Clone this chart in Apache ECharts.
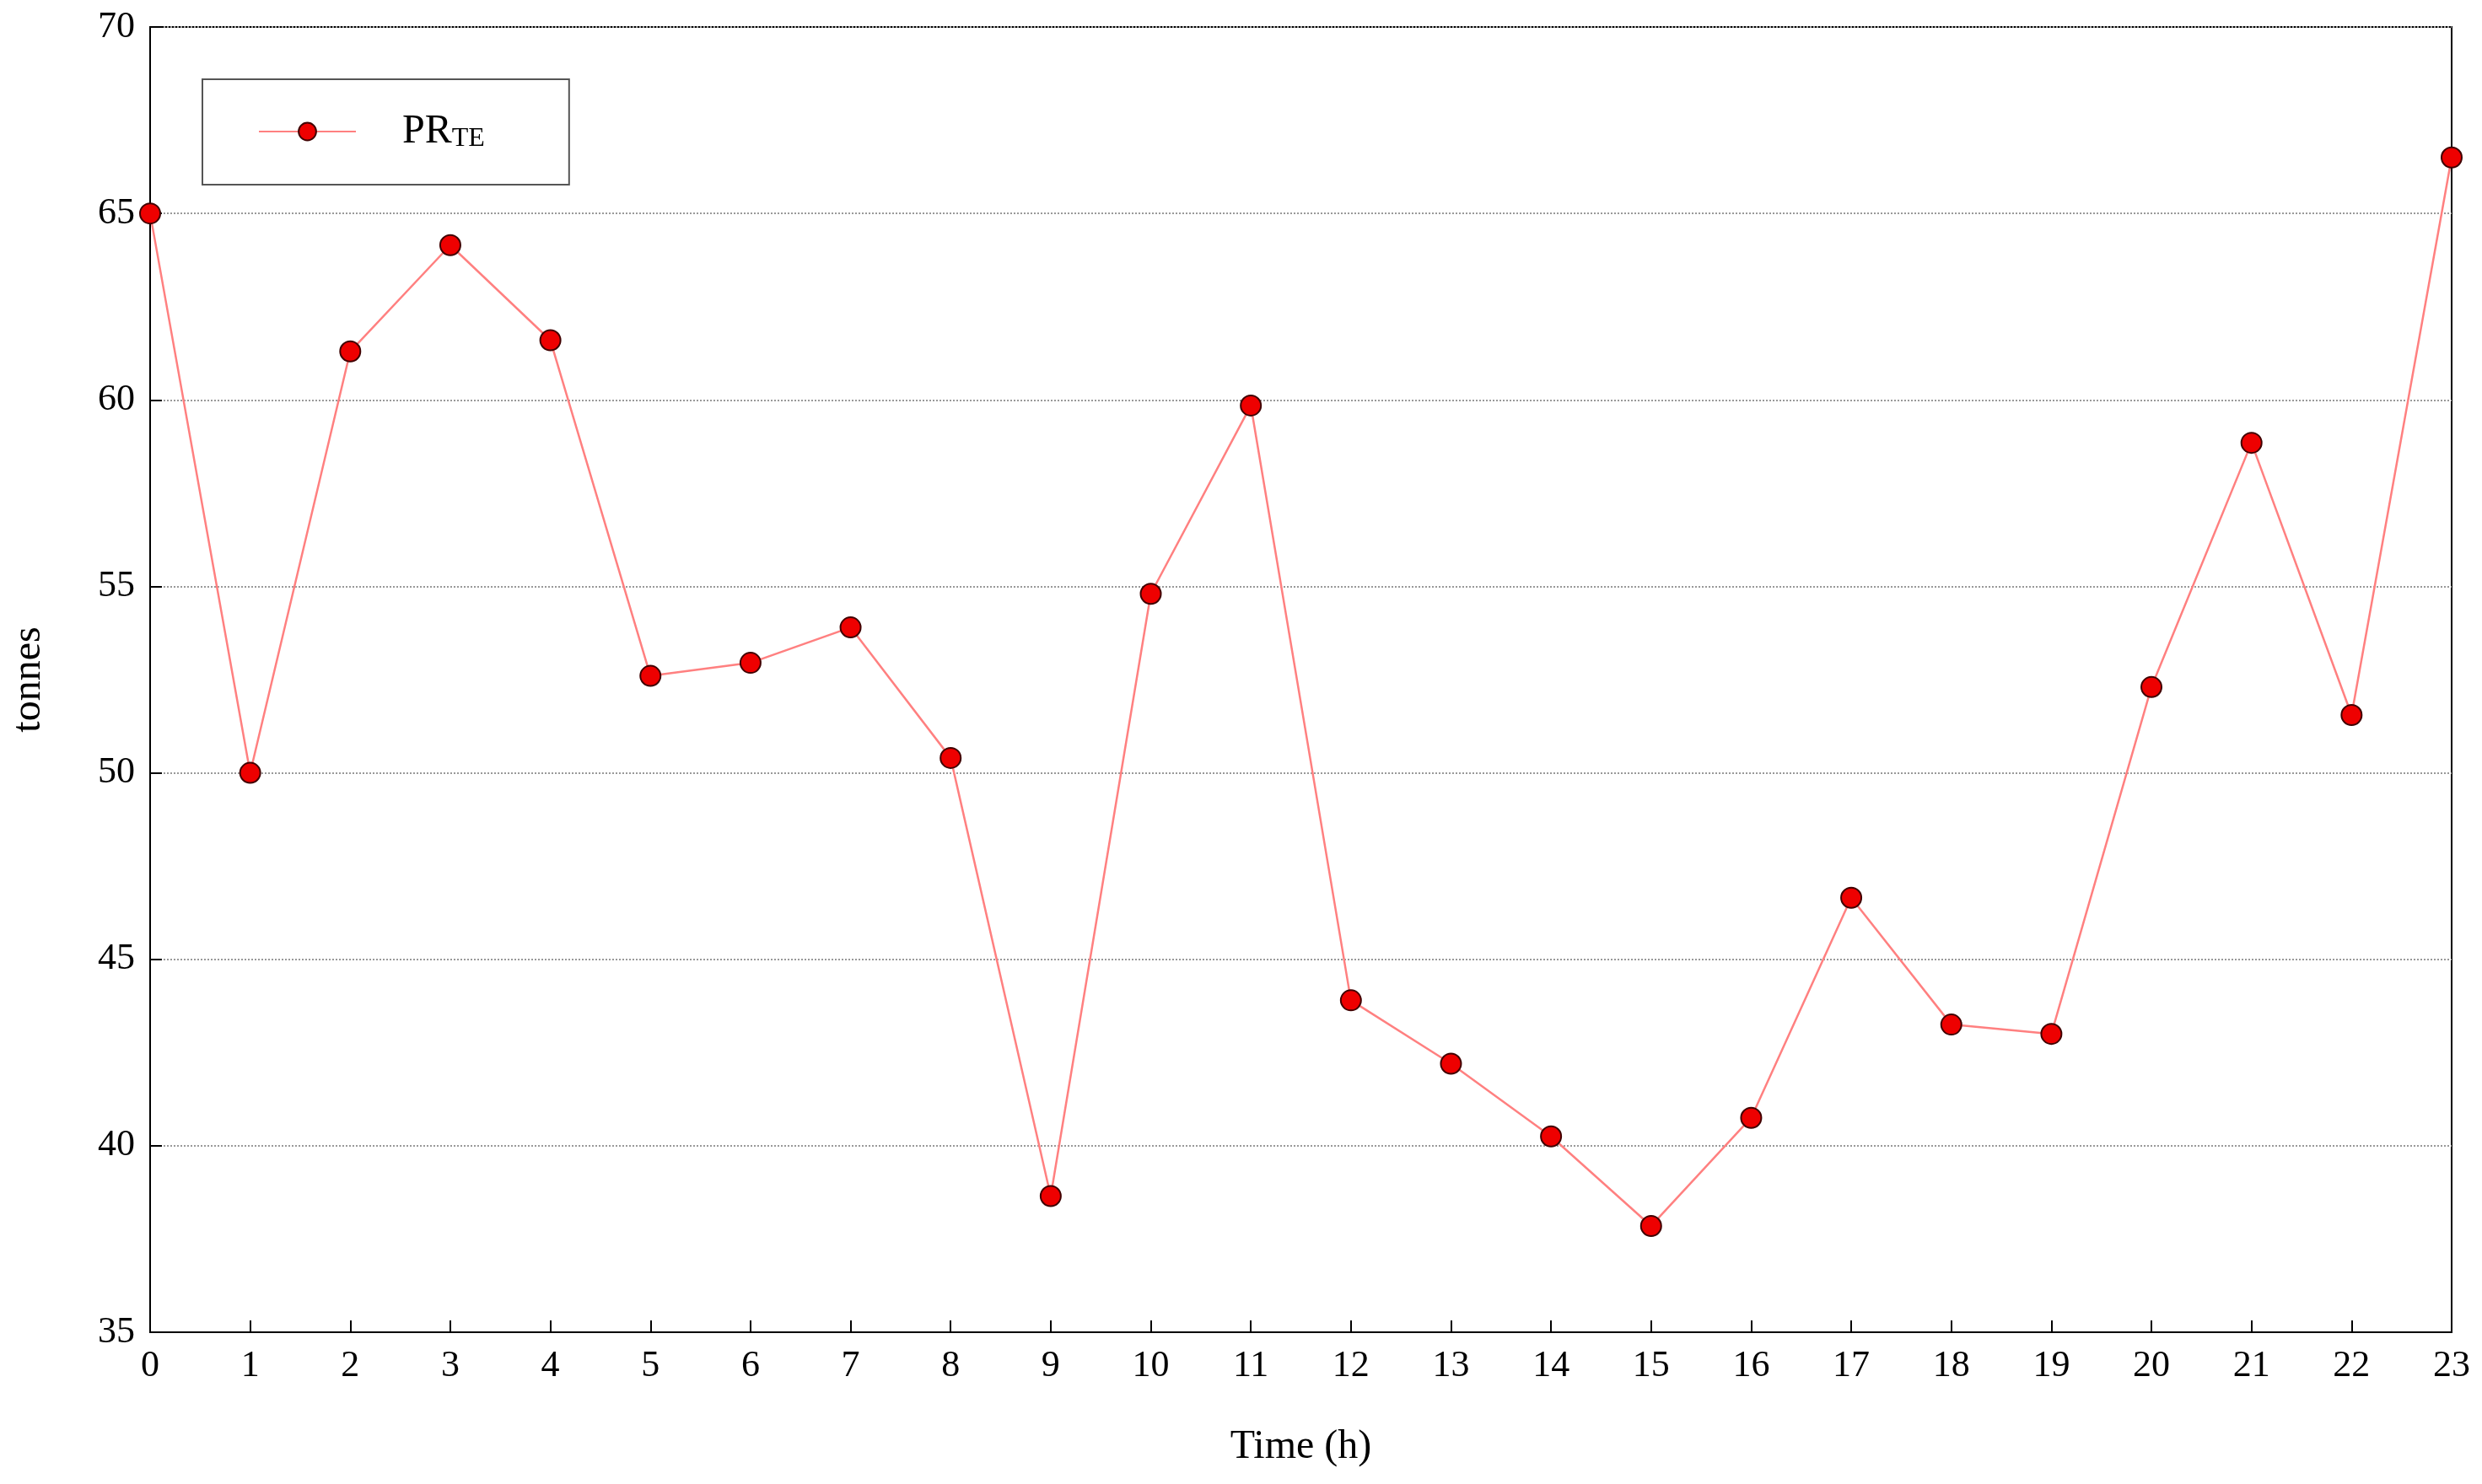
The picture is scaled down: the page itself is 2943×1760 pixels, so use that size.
<!DOCTYPE html>
<html>
<head>
<meta charset="utf-8">
<title>PR_TE</title>
<script src="https://cdn.jsdelivr.net/npm/echarts@6/dist/echarts.min.js"></script>
<style>html,body{margin:0;background:#fff}#chart{width:2943px;height:1760px}</style>
</head>
<body>
<div id="chart"></div>
<script>
// hours on the x axis
var hours = ['0','1','2','3','4','5','6','7','8','9','10','11','12','13','14','15','16','17','18','19','20','21','22','23'];
// PR_TE in tonnes
var prte = [65.0, 50.0, 61.3, 64.15, 61.6, 52.6, 52.95, 53.9, 50.4, 38.65, 54.8, 59.85,
            43.9, 42.2, 40.25, 37.85, 40.75, 46.65, 43.25, 43.0, 52.3, 58.85, 51.55, 66.5];

var chart = echarts.init(document.getElementById('chart'));
var font = 'Liberation Serif';
chart.setOption({
    backgroundColor: '#fff',
    textStyle: {fontFamily: font},
    grid: {left: 178, right: 36, top: 32, bottom: 180, show: true, borderColor: '#000', borderWidth: 2},
    legend: {
        left: 240, top: 94,
        padding: [38, 100, 38, 66],
        borderColor: '#555', borderWidth: 2,
        itemWidth: 115, itemHeight: 26, itemGap: 20,
        data: ['PR_TE'],
        formatter: function () { return '{a|PR}{b|TE}'; },
        textStyle: {
            rich: {
                a: {fontFamily: font, fontSize: 48, color: '#000', padding: [0, 0, 0, 50]},
                b: {fontFamily: font, fontSize: 32, color: '#000', verticalAlign: 'bottom', padding: [18, 0, 0, 0]}
            }
        }
    },
    xAxis: {
        type: 'category', data: hours, boundaryGap: false,
        name: 'Time (h)', nameLocation: 'middle', nameGap: 112,
        nameTextStyle: {fontFamily: font, fontSize: 48, color: '#000'},
        axisLine: {lineStyle: {color: '#000', width: 2}},
        axisTick: {inside: true, length: 14, lineStyle: {color: '#000', width: 2}},
        axisLabel: {fontFamily: font, fontSize: 44, color: '#000', margin: 18},
        splitLine: {show: false}
    },
    yAxis: {
        type: 'value', min: 35, max: 70, interval: 5,
        name: 'tonnes', nameLocation: 'middle', nameGap: 120, nameRotate: 90,
        nameTextStyle: {fontFamily: font, fontSize: 48, color: '#000'},
        axisLine: {show: true, lineStyle: {color: '#000', width: 2}},
        axisTick: {show: true, inside: true, length: 14, lineStyle: {color: '#000', width: 2}},
        axisLabel: {fontFamily: font, fontSize: 44, color: '#000', margin: 18},
        splitLine: {lineStyle: {color: '#999', type: 'dotted', width: 2}}
    },
    series: [{
        name: 'PR_TE', type: 'line', data: prte,
        symbol: 'circle', symbolSize: 24,
        lineStyle: {color: '#ff8080', width: 2.5},
        itemStyle: {color: '#ee0000', borderColor: '#400000', borderWidth: 2},
        z: 3
    }]
});
</script>
</body>
</html>
